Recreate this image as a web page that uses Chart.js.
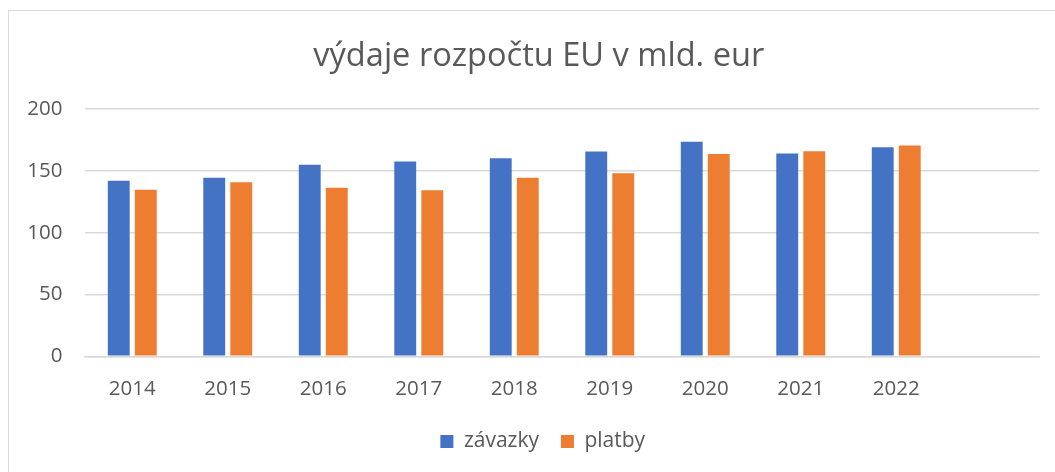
<!DOCTYPE html>
<html>
<head>
<meta charset="utf-8">
<script src="https://cdn.jsdelivr.net/npm/chart.js@4.4.1/dist/chart.umd.min.js"></script>
<style>
  html, body { margin: 0; padding: 0; background: #fff; }
  #wrap { position: relative; width: 1055px; height: 472px; }
  #frame { position: absolute; left: 8px; top: 10px; width: 1060px; height: 480px;
           border-top: 1.5px solid #d9d9d9; border-left: 1.5px solid #d9d9d9; }
  canvas { position: absolute; left: 0; top: 0; }
</style>
</head>
<body>
<div id="wrap">
  <div id="frame"></div>
  <canvas id="graf" width="1055" height="472"></canvas>
</div>
<script>
// data
const roky = ['2014', '2015', '2016', '2017', '2018', '2019', '2020', '2021', '2022', ''];
const zavazky = [142, 144.5, 155, 157.5, 160.2, 165.6, 173.6, 164, 169.1, null];
const platby = [134.8, 140.8, 136.4, 134.3, 144.5, 148, 163.7, 165.8, 170.4, null];
const yTicks = [0, 50, 100, 150, 200];

const sedaText = '#595959';
const font = 'Open Sans';

// titulek a legenda jsou v originale trochu vpravo od stredu
const posun = {
    id: 'posun',
    afterLayout(chart) {
        chart.legend.left += 23;
        chart.legend.right += 23;
        chart.titleBlock.left += 19;
        chart.titleBlock.right += 19;
    }
};

new Chart(document.getElementById('graf'), {
    type: 'bar',
    data: {
        labels: roky,
        datasets: [
            { label: 'závazky', data: zavazky, backgroundColor: '#4472C4',
              categoryPercentage: 0.566, barPercentage: 0.81 },
            { label: 'platby', data: platby, backgroundColor: '#ED7D31',
              categoryPercentage: 0.566, barPercentage: 0.81 }
        ]
    },
    options: {
        responsive: false,
        animation: false,
        layout: { padding: { left: 0, right: 15.5, top: 0, bottom: 10 } },
        scales: {
            x: {
                grid: { display: false, drawTicks: false },
                border: { display: true, color: '#d9d9d9', width: 1.5 },
                ticks: { color: sedaText, font: { family: font, size: 20.5 }, padding: 21, maxRotation: 0 },
                afterFit: (s) => { s.height = 52.7; }
            },
            y: {
                min: 0, max: 200,
                grid: { color: '#d9d9d9', lineWidth: 1.5, drawTicks: false },
                border: { display: false },
                afterBuildTicks: (s) => { s.ticks = yTicks.map(v => ({ value: v })); },
                ticks: { color: sedaText, font: { family: font, size: 20.5 }, padding: 22 },
                afterFit: (s) => { s.width = 84.5; }
            }
        },
        plugins: {
            title: {
                display: true,
                text: 'výdaje rozpočtu EU v mld. eur',
                color: sedaText,
                font: { family: font, size: 32.6, weight: 'normal' },
                padding: { top: 37.4, bottom: 32.5 }
            },
            legend: {
                position: 'bottom',
                labels: {
                    color: sedaText,
                    font: { family: font, size: 21 },
                    boxWidth: 13, boxHeight: 13,
                    padding: 22
                }
            },
            tooltip: { enabled: false }
        }
    },
    plugins: [posun]
});
</script>
</body>
</html>
